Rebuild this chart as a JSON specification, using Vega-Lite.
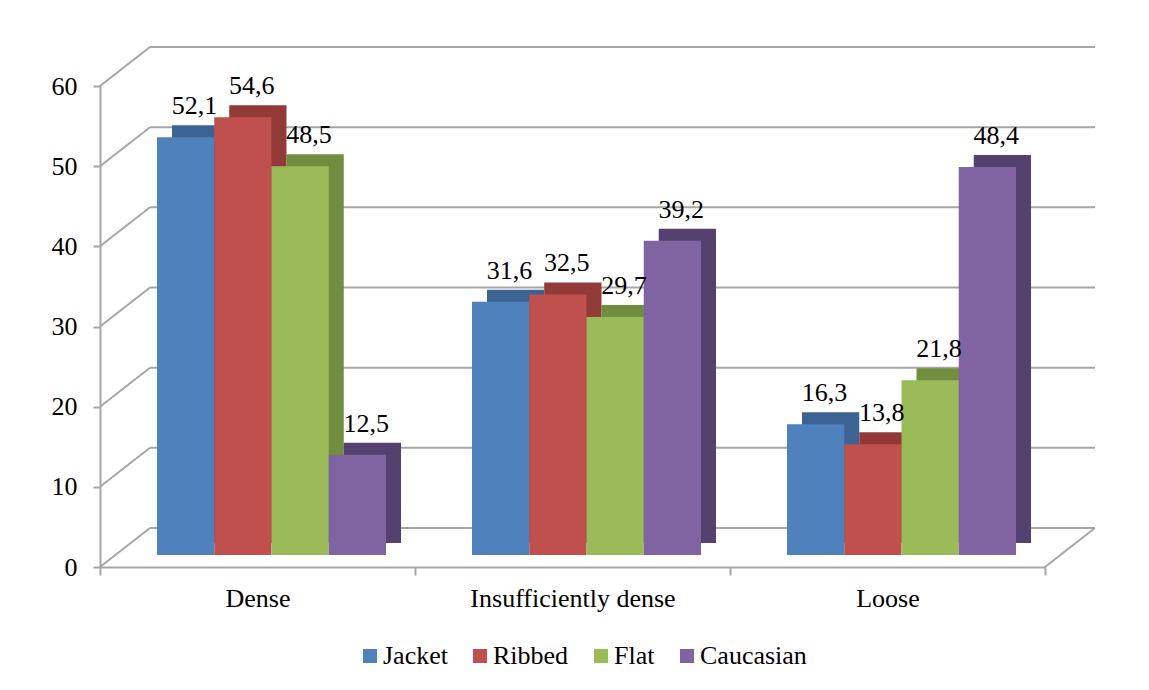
{
  "$schema": "https://vega.github.io/schema/vega-lite/v6.json",
  "autosize": {"type": "none"},
  "padding": {"left": 100, "top": 86, "right": 104, "bottom": 123},
  "width": 945,
  "height": 481,
  "background": "white",
  "config": {
    "view": {"stroke": null},
    "font": "Liberation Serif",
    "locale": {"number": {"decimal": ",", "thousands": " ", "grouping": [3], "currency": ["", ""]}}
  },
  "datasets": {
    "bars": [
      {"density": "Dense", "type": "Jacket", "value": 52.1},
      {"density": "Dense", "type": "Ribbed", "value": 54.6},
      {"density": "Dense", "type": "Flat", "value": 48.5},
      {"density": "Dense", "type": "Caucasian", "value": 12.5},
      {"density": "Insufficiently dense", "type": "Jacket", "value": 31.6},
      {"density": "Insufficiently dense", "type": "Ribbed", "value": 32.5},
      {"density": "Insufficiently dense", "type": "Flat", "value": 29.7},
      {"density": "Insufficiently dense", "type": "Caucasian", "value": 39.2},
      {"density": "Loose", "type": "Jacket", "value": 16.3},
      {"density": "Loose", "type": "Ribbed", "value": 13.8},
      {"density": "Loose", "type": "Flat", "value": 21.8},
      {"density": "Loose", "type": "Caucasian", "value": 48.4}
    ],
    "grid": [{"v": 0}, {"v": 10}, {"v": 20}, {"v": 30}, {"v": 40}, {"v": 50}, {"v": 60}],
    "floor": [{"v": 0}]
  },
  "resolve": {"scale": {"x": "independent", "xOffset": "independent", "color": "independent"}},
  "layer": [
    {
      "data": {"name": "grid"},
      "mark": {"type": "rule", "color": "#a6a6a6", "strokeWidth": 2, "xOffset": 50, "x2Offset": 50, "yOffset": -39, "clip": false},
      "encoding": {
        "x": {"datum": 0, "type": "quantitative", "scale": {"domain": [0, 1], "nice": false, "zero": false}, "axis": null},
        "x2": {"datum": 1},
        "y": {
          "field": "v", "type": "quantitative",
          "scale": {"domain": [0, 60], "nice": false},
          "axis": {
            "title": null, "values": [0, 10, 20, 30, 40, 50, 60], "grid": false,
            "domainColor": "#a6a6a6", "domainWidth": 2,
            "tickColor": "#a6a6a6", "tickWidth": 2, "tickSize": 7,
            "labelFont": "Liberation Serif", "labelFontSize": 26, "labelColor": "#000000",
            "labelPadding": 16
          }
        }
      }
    },
    {
      "data": {"name": "grid"},
      "mark": {"type": "rule", "color": "#a6a6a6", "strokeWidth": 2, "x2Offset": 50, "y2Offset": -39, "clip": false},
      "encoding": {
        "x": {"datum": 0, "type": "quantitative", "scale": {"domain": [0, 1], "nice": false, "zero": false}, "axis": null},
        "x2": {"datum": 0},
        "y": {"field": "v", "type": "quantitative"},
        "y2": {"field": "v"}
      }
    },
    {
      "data": {"name": "floor"},
      "mark": {"type": "rule", "color": "#a6a6a6", "strokeWidth": 2, "x2Offset": 50, "y2Offset": -39, "clip": false},
      "encoding": {
        "x": {"datum": 1, "type": "quantitative", "scale": {"domain": [0, 1], "nice": false, "zero": false}, "axis": null},
        "x2": {"datum": 1},
        "y": {"field": "v", "type": "quantitative"},
        "y2": {"field": "v"}
      }
    },
    {
      "data": {"name": "bars"},
      "mark": {"type": "bar", "yOffset": -24},
      "encoding": {
        "x": {
          "field": "density", "type": "nominal",
          "sort": ["Dense", "Insufficiently dense", "Loose"],
          "scale": {"paddingInner": 0, "paddingOuter": 0},
          "axis": {
            "title": null, "labelAngle": 0, "tickBand": "extent", "labelLimit": 0,
            "domainColor": "#a6a6a6", "domainWidth": 2,
            "tickColor": "#a6a6a6", "tickWidth": 2, "tickSize": 8,
            "labelFont": "Liberation Serif", "labelFontSize": 26, "labelColor": "#000000",
            "labelPadding": 10
          }
        },
        "xOffset": {"field": "type", "type": "nominal", "sort": ["Jacket", "Ribbed", "Flat", "Caucasian"], "scale": {"paddingInner": 0, "paddingOuter": 0.751, "align": 0.8372}},
        "y": {"field": "value", "type": "quantitative"},
        "color": {
          "field": "type", "type": "nominal",
          "scale": {"domain": ["Jacket", "Ribbed", "Flat", "Caucasian"], "range": ["#3C6394", "#923A37", "#718D3F", "#554170"]},
          "legend": null
        }
      }
    },
    {
      "data": {"name": "bars"},
      "mark": {"type": "bar", "yOffset": -12},
      "encoding": {
        "x": {"field": "density", "type": "nominal", "sort": ["Dense", "Insufficiently dense", "Loose"], "scale": {"paddingInner": 0, "paddingOuter": 0}, "axis": null},
        "xOffset": {"field": "type", "type": "nominal", "sort": ["Jacket", "Ribbed", "Flat", "Caucasian"], "scale": {"paddingInner": 0, "paddingOuter": 0.751, "align": 0.6628}},
        "y": {"field": "value", "type": "quantitative"},
        "color": {
          "field": "type", "type": "nominal",
          "scale": {"domain": ["Jacket", "Ribbed", "Flat", "Caucasian"], "range": ["#4F81BD", "#C0504D", "#9BBB59", "#8064A2"]},
          "legend": {
            "title": null, "orient": "none", "direction": "horizontal",
            "legendX": 257, "legendY": 557,
            "symbolType": "square", "symbolSize": 196, "symbolStrokeWidth": 0,
            "labelFont": "Liberation Serif", "labelFontSize": 26, "labelColor": "#000000",
            "labelOffset": 0, "columnPadding": 19
          }
        }
      }
    },
    {
      "data": {"name": "bars"},
      "mark": {"type": "text", "yOffset": -30, "baseline": "bottom", "font": "Liberation Serif", "fontSize": 26, "color": "#000000"},
      "encoding": {
        "x": {"field": "density", "type": "nominal", "sort": ["Dense", "Insufficiently dense", "Loose"], "scale": {"type": "band", "paddingInner": 0, "paddingOuter": 0}, "axis": null},
        "xOffset": {"field": "type", "type": "nominal", "sort": ["Jacket", "Ribbed", "Flat", "Caucasian"], "scale": {"type": "band", "paddingInner": 0, "paddingOuter": 0.751, "align": 0.767}},
        "y": {"field": "value", "type": "quantitative"},
        "text": {"field": "value", "type": "quantitative", "format": ".1f"}
      }
    }
  ]
}
